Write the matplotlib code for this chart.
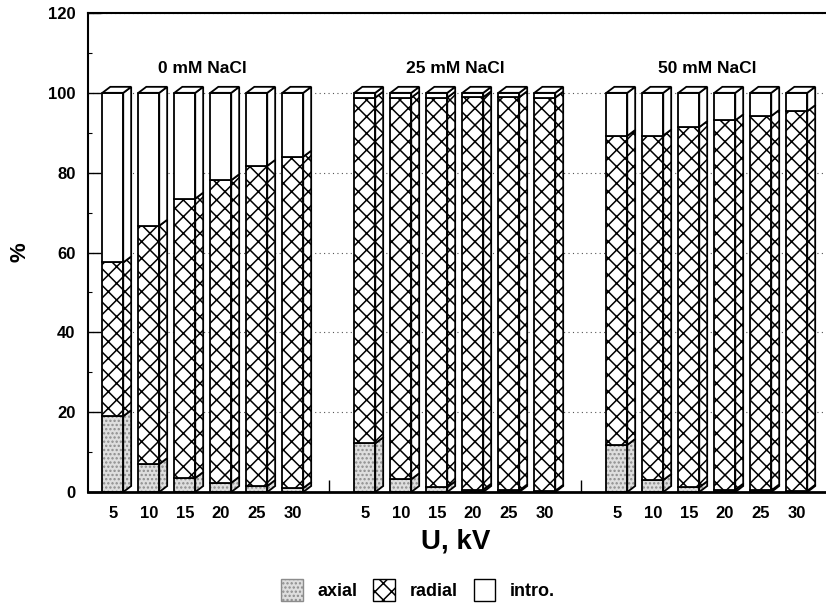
import matplotlib.pyplot as plt
import numpy as np
from matplotlib.patches import Patch, Polygon

plt.rcParams["font.family"] = ["Liberation Sans", "DejaVu Sans"]
plt.rcParams["font.weight"] = "bold"
plt.rcParams["hatch.linewidth"] = 1.1

voltages = ["5", "10", "15", "20", "25", "30"]
groups = ["0 mM NaCl", "25 mM NaCl", "50 mM NaCl"]

# share of each mode, % (rows: 0, 25, 50 mM NaCl)
axial = [
    [19.0, 7.0, 3.5, 2.3, 1.5, 1.0],
    [12.2, 3.2, 1.2, 0.6, 0.4, 0.3],
    [11.8, 3.0, 1.2, 0.6, 0.4, 0.3],
]
radial = [
    [38.5, 59.7, 70.0, 75.8, 80.2, 83.0],
    [86.6, 95.6, 97.6, 98.3, 98.5, 98.5],
    [77.4, 86.3, 90.2, 92.5, 93.8, 95.1],
]
intro = [
    [42.5, 33.3, 26.5, 21.9, 18.3, 16.0],
    [1.2, 1.2, 1.2, 1.1, 1.1, 1.2],
    [10.8, 10.7, 8.6, 6.9, 5.8, 4.6],
]

styles = [
    dict(facecolor="#dedede", hatch="....", hatchcolor="#8c8c8c"),
    dict(facecolor="white", hatch="xx", hatchcolor="black"),
    dict(facecolor="white", hatch="", hatchcolor="black"),
]

width = 0.58
dx, dy = 0.22, 1.5  # depth of the pseudo-3D boxes

fig = plt.figure(figsize=(8.26, 6.04), dpi=100)
ax = fig.add_axes([0.1065, 0.1854, 0.8935, 0.7931])
ax.set_xlim(-0.69, 19.81)
ax.set_ylim(0, 120)
ax.set_axisbelow(True)

pos = []
for g in range(3):
    x = np.arange(6) + 7 * g
    pos.extend(x)
    bottom = np.zeros(6)
    for vals, st in zip([axial[g], radial[g], intro[g]], styles):
        vals = np.array(vals)
        ax.bar(x, vals, width, bottom=bottom, color=st["facecolor"],
               edgecolor=st["hatchcolor"], hatch=st["hatch"], linewidth=0)
        ax.bar(x, vals, width, bottom=bottom, fill=False,
               edgecolor="black", linewidth=1.3)
        for xi, b, v in zip(x, bottom, vals):
            xr = xi + width / 2
            side = [(xr, b), (xr + dx, b + dy), (xr + dx, b + v + dy), (xr, b + v)]
            ax.add_patch(Polygon(side, closed=True, facecolor=st["facecolor"],
                                 edgecolor=st["hatchcolor"], hatch=st["hatch"],
                                 linewidth=0))
            ax.add_patch(Polygon(side, closed=True, fill=False,
                                 edgecolor="black", linewidth=1.3))
        bottom = bottom + vals
    for xi, top in zip(x, bottom):
        xl = xi - width / 2
        lid = [(xl, top), (xl + dx, top + dy), (xl + width + dx, top + dy),
               (xl + width, top)]
        ax.add_patch(Polygon(lid, closed=True, facecolor="white",
                             edgecolor="black", linewidth=1.3))
    ax.text(x.mean(), 106, groups[g], ha="center", va="center",
            fontsize=12.5, fontweight="bold")

ax.set_xticks(pos)
ax.set_xticklabels(voltages * 3)
ax.set_xticks([6, 13], minor=True)
ax.tick_params(axis="x", which="major", length=0, pad=10, labelsize=12)
ax.tick_params(axis="x", which="minor", direction="in", length=9, width=1)

ax.set_yticks(np.arange(0, 121, 20))
ax.set_yticks(np.arange(10, 120, 20), minor=True)
ax.tick_params(axis="y", which="major", direction="in", length=9, width=1,
               pad=9, labelsize=12)
ax.tick_params(axis="y", which="minor", direction="in", length=3, width=0.8)
ax.yaxis.grid(True, linestyle=(0, (1, 3)), color="#555555", linewidth=0.8)

for lab in ax.get_xticklabels() + ax.get_yticklabels():
    lab.set_fontweight("bold")

ax.spines["right"].set_visible(False)
ax.spines["left"].set_linewidth(1.5)
ax.spines["top"].set_linewidth(1.5)
ax.spines["bottom"].set_linewidth(2)

ax.set_xlabel("U, kV", fontsize=20, fontweight="bold")
ax.xaxis.label.set_va("center")
ax.xaxis.set_label_coords(0.4986, -0.104)
ax.set_ylabel("%", fontsize=16, fontweight="bold")
ax.yaxis.label.set_va("center")
ax.yaxis.set_label_coords(-0.092, 0.5)

handles = [
    Patch(facecolor=st["facecolor"], edgecolor=st["hatchcolor"] if st["hatch"] else "black",
          hatch=st["hatch"], linewidth=1.0)
    for st in styles
]
fig.legend(handles, ["axial", "radial", "intro."], loc="center",
           bbox_to_anchor=(0.506, 0.023), ncol=3, frameon=False,
           fontsize=13, handlelength=1.2, handleheight=1.5,
           handletextpad=0.8, columnspacing=0.9)

fig.savefig("out.png", dpi=100)
